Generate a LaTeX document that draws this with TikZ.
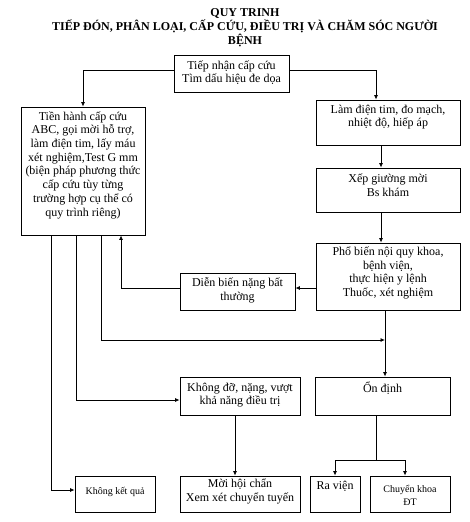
\documentclass[tikz,border=0pt]{standalone}
\usepackage{fontspec}
\setmainfont{Liberation Serif}
\usetikzlibrary{arrows.meta}
\begin{document}
\begin{tikzpicture}[x=1pt,y=-1pt,
  box/.style={draw, line width=0.8pt, inner sep=0pt},
  txt/.style={align=center, inner sep=0pt, font=\fontsize{12}{13.7}\selectfont},
  smalltxt/.style={align=center, inner sep=0pt, font=\fontsize{10}{13}\selectfont},
  titletxt/.style={align=center, inner sep=0pt, font=\fontsize{12}{14}\selectfont\bfseries},
  arr/.style={line width=0.8pt, -{Latex[length=4.5pt,width=4pt]}},
  ln/.style={line width=0.8pt}]
\useasboundingbox (0,0) rectangle (470,522);
\fill[white] (0,0) rectangle (470,522);
% title
\node[titletxt] (title) at (245,28) {QUY TRINH\\TIẾP ĐÓN, PHÂN LOẠI, CẤP CỨU, ĐIỀU TRỊ VÀ CHĂM SÓC NGƯỜI\\BỆNH};
% boxes
\node[box, minimum width=115, minimum height=37] (b1) at (231.5,73.5) {};
\node[box, minimum width=124, minimum height=128] (b2) at (83,171) {};
\node[box, minimum width=144, minimum height=45] (b3) at (388,122.5) {};
\node[box, minimum width=144, minimum height=44] (b4) at (388,190) {};
\node[box, minimum width=144, minimum height=67] (b5) at (388,276.5) {};
\node[box, minimum width=115, minimum height=37] (b6) at (237.5,291.5) {};
\node[box, minimum width=120, minimum height=38] (b7) at (240,396) {};
\node[box, minimum width=135, minimum height=38] (b8) at (382.5,396) {};
\node[box, minimum width=80, minimum height=36] (b9) at (115,494) {};
\node[box, minimum width=120, minimum height=36] (b10) at (240,494) {};
\node[box, minimum width=50, minimum height=36] (b11) at (335,494) {};
\node[box, minimum width=80, minimum height=36] (b12) at (410,494) {};
% texts
\node[txt] (t1) at (231.5,72.5) {Tiếp nhận cấp cứu\\Tìm dấu hiệu đe dọa};
\node[txt] (t2) at (83,165) {Tiền hành cấp cứu\\ABC, gọi mời hỗ trợ,\\làm điện tim, lấy máu\\xét nghiệm,Test G mm\\(biện pháp phương thức\\cấp cứu tùy từng\\trường hợp cụ thể có\\quy trình riêng)};
\node[txt] (t3) at (388,117) {Làm điện tim, đo mạch,\\nhiệt độ, hiếp áp};
\node[txt] (t4) at (388,185) {Xếp giường mời\\Bs khám};
\node[txt] (t5) at (388,273) {Phổ biến nội quy khoa,\\bệnh viện,\\thực hiện y lệnh\\Thuốc, xét nghiệm};
\node[txt] (t6) at (237.5,290.5) {Diễn biến nặng bất\\thường};
\node[txt] (t7) at (240,395) {Không đỡ, nặng, vượt\\khả năng điều trị};
\node[txt] (t8) at (382.5,388) {Ổn định};
\node[smalltxt] (t9) at (115,492) {Không kết quả};
\node[txt] (t10) at (240,491.5) {Mời hội chẩn\\Xem xét chuyển tuyến};
\node[txt] (t11) at (335,486) {Ra viện};
\node[smalltxt] (t12) at (410,495.5) {Chuyển khoa\\ĐT};
% connectors
\draw[arr] (b1.west |- 0,70) -| (b2.north);
\draw[arr] (b1.east |- 0,70) -| (b3.north -| 376,0);
\draw[arr] (b3.south -| 381,0) -- (b4.north -| 381,0);
\draw[arr] (b4.south -| 381,0) -- (b5.north -| 381,0);
\draw[arr] (b5.west |- 0,288) -- (b6.east |- 0,288);
\draw[arr] (b6.west |- 0,288) -| (b2.south -| 121,0);
\coordinate (j1) at (385,340);
\draw[arr] (b2.south -| 101,0) |- (j1);
\draw[arr] (b5.south -| 385,0) -- (b8.north -| 385,0);
\draw[arr] (b2.south -| 76,0) |- (b7.west |- 0,400);
\draw[arr] (b2.south -| 51,0) |- (b9.west |- 0,490);
\draw[arr] (b7.south -| 235,0) -- (b10.north -| 235,0);
\coordinate (j2) at (376,460);
\draw[ln] (b8.south -| 376,0) -- (j2);
\draw[arr] (j2) -| (b11.north);
\draw[arr] (j2) -| (b12.north -| 405,0);
\end{tikzpicture}
\end{document}
